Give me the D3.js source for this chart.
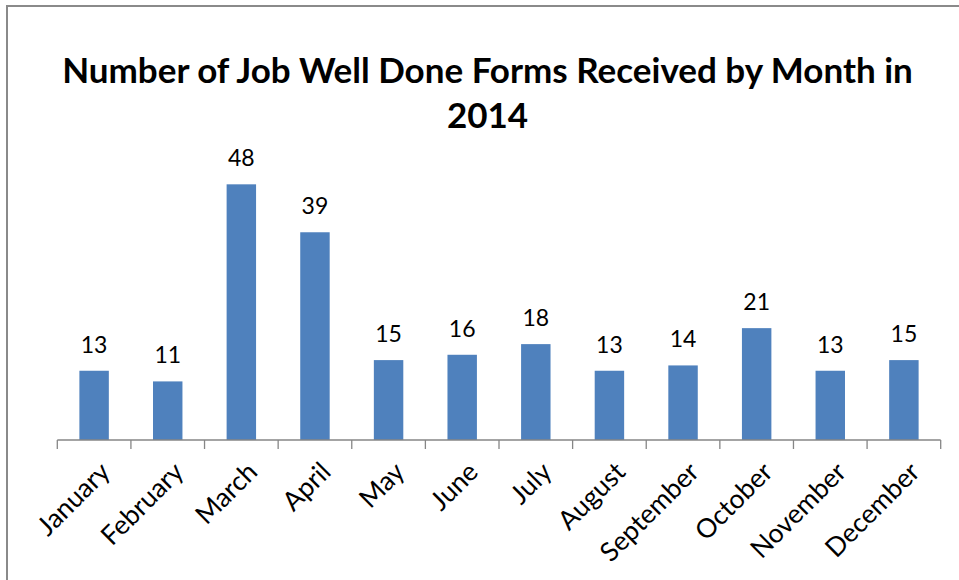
<!DOCTYPE html>
<html>
<head>
<meta charset="utf-8">
<script src="https://cdn.jsdelivr.net/npm/d3@7"></script>
<style>
  html, body { margin: 0; padding: 0; background: #fff; }
  svg { display: block; }
</style>
</head>
<body>
<svg id="chart" width="959" height="580"></svg>
<script>
// Monthly counts of "Job Well Done" forms
const months = ["January", "February", "March", "April", "May", "June",
                "July", "August", "September", "October", "November", "December"];
const counts = [13, 11, 48, 39, 15, 16, 18, 13, 14, 21, 13, 15];
const titleLines = ["Number of Job Well Done Forms Received by Month in", "2014"];
const yDomain = [0, 60];

const svg = d3.select("#chart");
const W = 959, H = 580;
const font = "Lato, 'Open Sans', sans-serif";

// outer chart frame (only top and left edges fall inside the view)
svg.append("rect")
  .attr("x", 7).attr("y", 6)
  .attr("width", W + 20).attr("height", H + 20)
  .attr("fill", "#fff")
  .attr("stroke", "#8a8a8a")
  .attr("stroke-width", 2);

const plot = { left: 57.3, right: 940.7, top: 120.4, bottom: 440 };

const x = d3.scaleBand()
  .domain(months)
  .range([plot.left, plot.right])
  .paddingInner(0.6)
  .paddingOuter(0.3);

const y = d3.scaleLinear()
  .domain(yDomain)
  .range([plot.bottom, plot.top]);

// title
const title = svg.append("text")
  .attr("text-anchor", "middle")
  .attr("font-family", font)
  .attr("font-weight", "bold")
  .attr("font-size", 35)
  .attr("fill", "#000");
titleLines.forEach((t, i) => {
  title.append("tspan")
    .attr("x", 487.5)
    .attr("y", 83 + i * 45)
    .text(t);
});

// bars
svg.append("g")
  .selectAll("rect")
  .data(counts)
  .join("rect")
  .attr("x", (d, i) => x(months[i]))
  .attr("y", d => y(d))
  .attr("width", x.bandwidth())
  .attr("height", d => y(0) - y(d))
  .attr("fill", "#4f81bd");

// value labels
svg.append("g")
  .selectAll("text")
  .data(counts)
  .join("text")
  .attr("x", (d, i) => x(months[i]) + x.bandwidth() / 2)
  .attr("y", d => y(d) - 18)
  .attr("text-anchor", "middle")
  .attr("font-family", font)
  .attr("font-size", 23)
  .attr("fill", "#000")
  .text(d => d);

// category axis: baseline with ticks at the band boundaries
const step = x.step();
const boundaries = d3.range(months.length + 1).map(i => plot.left + i * step);
const axis = svg.append("g");
axis.append("line")
  .attr("x1", plot.left).attr("x2", plot.right)
  .attr("y1", plot.bottom).attr("y2", plot.bottom)
  .attr("stroke", "#868686").attr("stroke-width", 1.3);
axis.selectAll("line.tick")
  .data(boundaries)
  .join("line")
  .attr("class", "tick")
  .attr("x1", d => d).attr("x2", d => d)
  .attr("y1", plot.bottom).attr("y2", plot.bottom + 9)
  .attr("stroke", "#868686").attr("stroke-width", 1.3);

// rotated month labels
axis.selectAll("text")
  .data(months)
  .join("text")
  .attr("transform", d => `translate(${x(d) + x.bandwidth() / 2 + 11},${plot.bottom + 27}) rotate(-45)`)
  .attr("text-anchor", "end")
  .attr("dy", "0.35em")
  .attr("font-family", font)
  .attr("font-size", 26.5)
  .attr("fill", "#000")
  .text(d => d);
</script>
</body>
</html>
